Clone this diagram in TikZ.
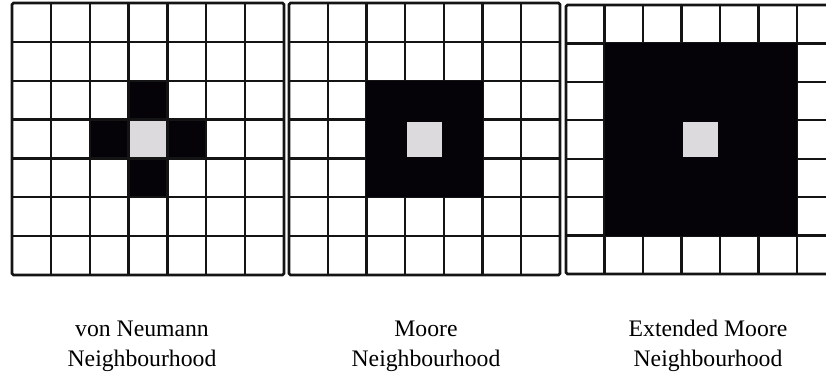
\documentclass[tikz,border=0pt]{standalone}
\usepackage{fontspec}
\setmainfont{Liberation Serif}
\definecolor{cellblack}{HTML}{050308}
\definecolor{cellgrey}{HTML}{DCDADC}
\definecolor{gridline}{HTML}{141414}
\tikzset{
  gridln/.style={draw=gridline, line width=2.2pt},
  frame/.style={draw=gridline, line width=2.6pt, rounded corners=1.5pt},
  label/.style={font=\fontsize{23.7}{30}\selectfont, text=black, inner sep=0pt, anchor=base}
}
\begin{document}
\begin{tikzpicture}[x=1pt,y=-1pt]
\useasboundingbox (0,0) rectangle (826,373);
\fill[white] (0,0) rectangle (826,373);
% ---------- grid 1 : von Neumann
\begin{scope}[shift={(12,3)}, x=38.86pt, y=-38.86pt]
  \fill[cellblack] (3,2) rectangle (4,5);
  \fill[cellblack] (2,3) rectangle (5,4);
  \fill[cellgrey] (3,3) rectangle (4,4);
  \foreach \i in {1,...,6} {
    \draw[gridln] (\i,0) -- (\i,7);
    \draw[gridln] (0,\i) -- (7,\i);
  }
  \draw[frame] (0,0) rectangle (7,7);
\end{scope}
% ---------- grid 2 : Moore
\begin{scope}[shift={(289,3)}, x=38.71pt, y=-38.86pt]
  \foreach \i in {1,...,6} {
    \draw[gridln] (\i,0) -- (\i,7);
    \draw[gridln] (0,\i) -- (7,\i);
  }
  \fill[cellblack] (2,2) rectangle (5,5);
  \fill[cellgrey] (3.05,3.05) rectangle (3.95,3.95);
  \draw[frame] (0,0) rectangle (7,7);
\end{scope}
% ---------- grid 3 : Extended Moore
\begin{scope}
\clip (560,0) rectangle (826,373);
\begin{scope}[shift={(566,5)}, x=38.5pt, y=-38.43pt]
  \foreach \i in {1,...,6} {
    \draw[gridln] (\i,0) -- (\i,7);
  }
  \foreach \i in {1,...,6} {
    \draw[gridln] (0,\i) -- (8,\i);
  }
  \fill[cellblack] (1,1) rectangle (6,6);
  \fill[cellgrey] (3.05,3.05) rectangle (3.95,3.95);
  \draw[frame] (8,0) -- (0,0) -- (0,7) -- (8,7);
\end{scope}
\end{scope}
% ---------- labels
\node[label] (l1a) at (142,336) {von Neumann};
\node[label] (l1b) at (142,366) {Neighbourhood};
\node[label] (l2a) at (426,336) {Moore};
\node[label] (l2b) at (426,366) {Neighbourhood};
\node[label] (l3a) at (708,336) {Extended Moore};
\node[label] (l3b) at (708,366) {Neighbourhood};
\end{tikzpicture}
\end{document}
